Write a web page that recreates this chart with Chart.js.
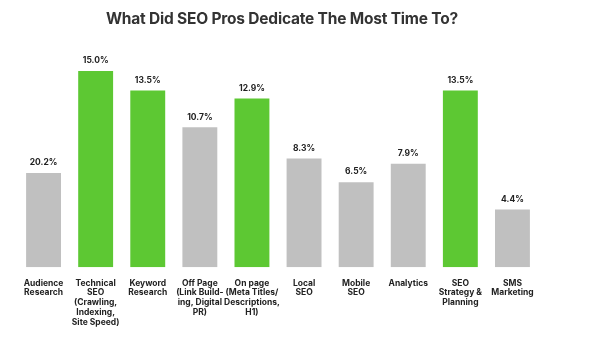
<!DOCTYPE html>
<html>
<head>
<meta charset="utf-8">
<script src="https://cdn.jsdelivr.net/npm/chart.js@4"></script>
<style>
  body { margin: 0; background: #fff; }
  #wrap { position: relative; width: 600px; height: 344px; }
  #title {
    position: absolute; left: 0; top: 11px; width: 564px;
    text-align: center; font-family: Inter, sans-serif; font-weight: 700;
    font-size: 15.5px; line-height: 15.5px; color: #333; letter-spacing: -0.2px;
  }
</style>
</head>
<body>
<div id="wrap">
  <div id="title">What Did SEO Pros Dedicate The Most Time To?</div>
  <canvas id="myChart" width="600" height="344"></canvas>
</div>
<script>
// categories (multi-line labels as shown under the bars)
const categories = [
  ['Audience', 'Research'],
  ['Technical', 'SEO', '(Crawling,', 'Indexing,', 'Site Speed)'],
  ['Keyword', 'Research'],
  ['Off Page', '(Link Build-', 'ing, Digital', 'PR)'],
  ['On page', '(Meta Titles/', 'Descriptions,', 'H1)'],
  ['Local', 'SEO'],
  ['Mobile', 'SEO'],
  ['Analytics'],
  ['SEO', 'Strategy &', 'Planning'],
  ['SMS', 'Marketing']
];

// bar heights as drawn in the picture
const barValues = [7.2, 15.0, 13.5, 10.7, 12.9, 8.3, 6.5, 7.9, 13.5, 4.4];

// the printed labels above the bars
const valueLabels = ['20.2%', '15.0%', '13.5%', '10.7%', '12.9%', '8.3%', '6.5%', '7.9%', '13.5%', '4.4%'];

// which bars are highlighted green
const highlighted = [false, true, true, false, true, false, false, false, true, false];

const green = '#5dc833';
const gray = '#c0c0c0';

// draw the text above each bar
const valueLabelPlugin = {
  id: 'valueLabels',
  afterDatasetsDraw(chart) {
    const ctx = chart.ctx;
    const meta = chart.getDatasetMeta(0);
    ctx.save();
    ctx.font = 'bold 8.5px Inter, sans-serif';
    ctx.fillStyle = '#222';
    ctx.textAlign = 'center';
    ctx.textBaseline = 'bottom';
    meta.data.forEach((bar, i) => {
      ctx.fillText(valueLabels[i], bar.x, bar.y - 6);
    });
    ctx.restore();
  }
};

let ctx = document.getElementById('myChart').getContext('2d');
let myChart = new Chart(ctx, {
  type: 'bar',
  data: {
    labels: categories,
    datasets: [{
      data: barValues,
      backgroundColor: highlighted.map(h => h ? green : gray),
      borderWidth: 0,
      categoryPercentage: 1.0,
      barPercentage: 0.67
    }]
  },
  options: {
    responsive: false,
    animation: false,
    layout: {
      padding: { left: 17.5, right: 61.5, top: 5.6, bottom: 6 }
    },
    plugins: {
      legend: { display: false },
      title: { display: false },
      tooltip: { enabled: false }
    },
    scales: {
      y: {
        display: false,
        min: 0,
        max: 20
      },
      x: {
        grid: { display: false, drawTicks: false },
        border: { display: false },
        ticks: {
          autoSkip: false,
          maxRotation: 0,
          minRotation: 0,
          padding: 11,
          color: '#222',
          font: { family: 'Inter, sans-serif', weight: 'bold', size: 8.5, lineHeight: 1.15 }
        }
      }
    }
  },
  plugins: [valueLabelPlugin]
});
</script>
</body>
</html>
